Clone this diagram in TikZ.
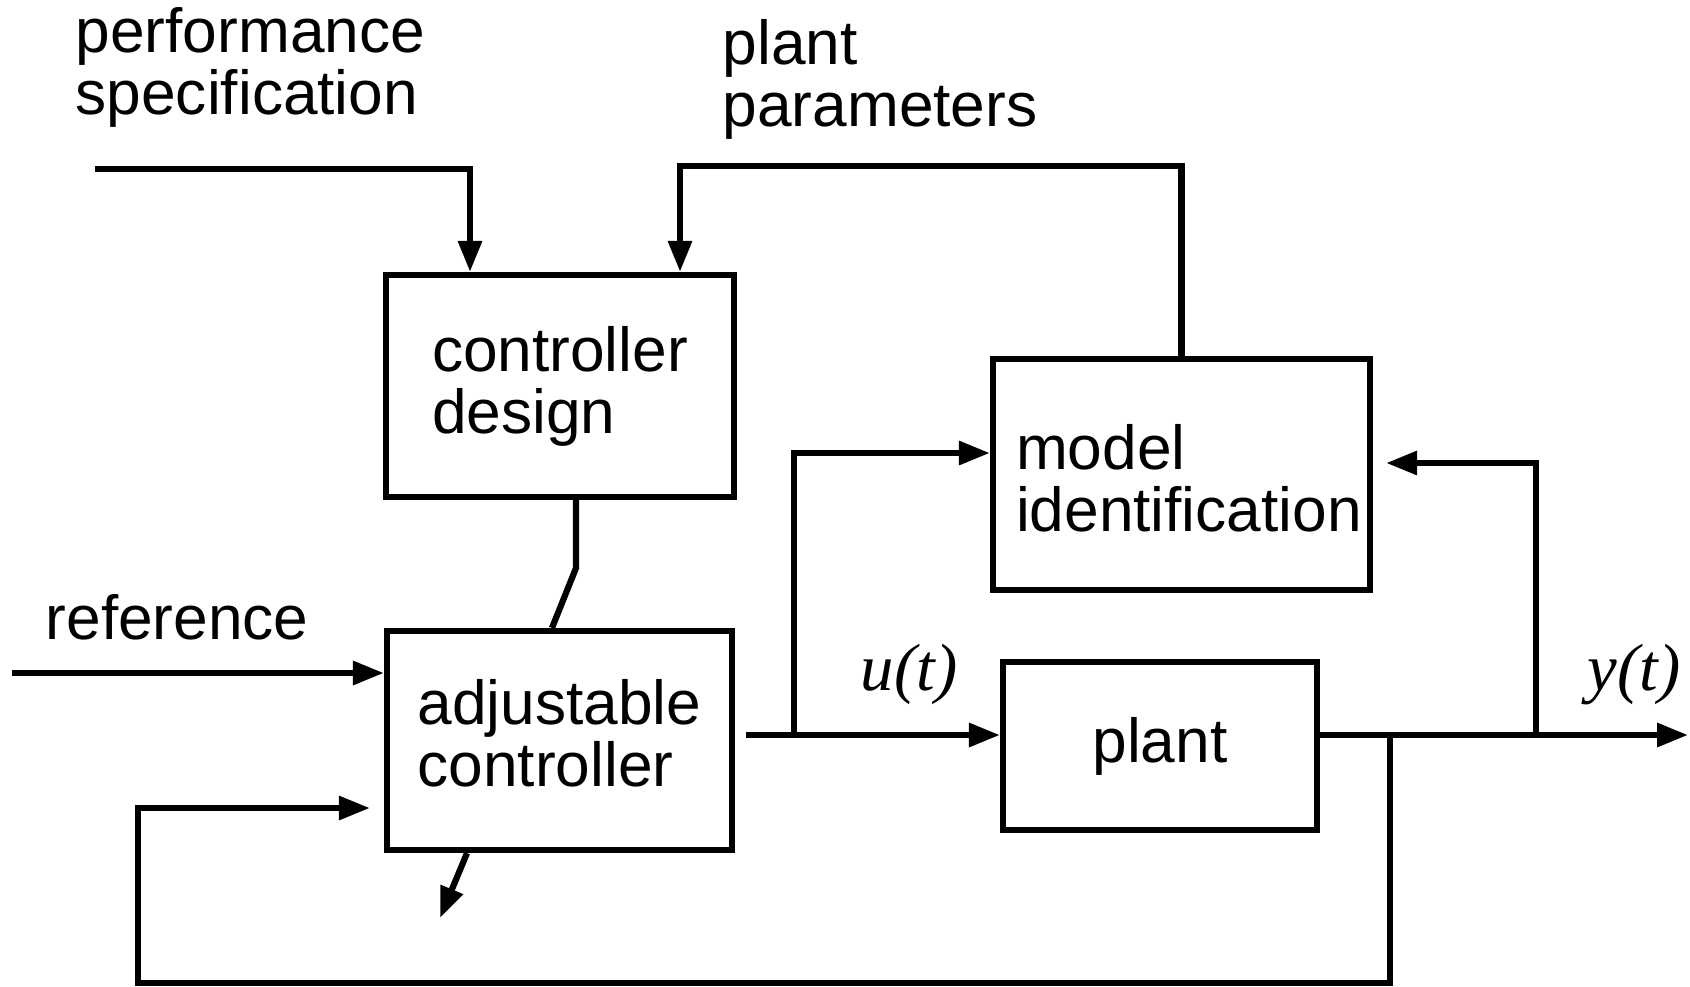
\documentclass[tikz,border=0pt]{standalone}
\usepackage{fontspec}
\setmainfont{Liberation Sans}
\newfontfamily\sigfont{Liberation Serif}
\usetikzlibrary{arrows.meta, positioning, calc}
\tikzset{
  block/.style={rectangle, draw=black, line width=0.062cm, align=left,
    inner sep=0pt, font=\fontsize{17.7}{17.6}\selectfont},
  arrow/.style={-{Triangle[length=0.31cm, width=0.23cm]}, line width=0.062cm},
  line/.style={line width=0.062cm},
  sig/.style={font=\sigfont\itshape\fontsize{19}{19}\selectfont}
}

\begin{document}
\begin{tikzpicture}[lbl/.style={align=left, inner sep=0pt,
    font=\fontsize{17.7}{17.6}\selectfont}]
  \useasboundingbox (0,0) rectangle (16.9,9.86);

  % Blocks
  \node[block, minimum width=3.48cm, minimum height=2.22cm] (design) at (5.60,6.00) {controller\\design};
  \node[block, minimum width=3.45cm, minimum height=2.19cm, text depth=0.15cm] (ctrl) at (5.595,2.455) {adjustable\\controller};
  \node[block, minimum width=3.77cm, minimum height=2.31cm, text width=3.31cm, text height=0.53cm] (ident) at (11.815,5.115) {model\\identification};
  \node[block, minimum width=3.14cm, minimum height=1.68cm] (plant) at (11.60,2.40) {plant};

  % Labels (base anchor sits on the last line)
  \node[lbl, anchor=base west] (perf) at (0.75,8.72) {performance\\specification};
  \node[lbl, anchor=base west] (params) at (7.22,8.60) {plant\\parameters};
  \node[lbl, anchor=base west] (ref) at (0.45,3.47) {reference};
  \node[sig] (u) at (9.09,3.12) {u(t)};
  \node[sig] (y) at (16.34,3.11) {y(t)};

  % Free ends and branch points
  \coordinate (spec) at (0.95,8.17);
  \coordinate (ref0) at (0.12,3.13);
  \coordinate (bend) at (5.76,4.18);
  \coordinate (adj) at (4.40,0.68);
  \coordinate (usplit) at (7.94,2.51);
  \coordinate (ysplit) at (15.36,2.51);
  \coordinate (yend) at (16.88,2.51);
  \coordinate (fb) at (13.90,2.51);
  \coordinate (fbl) at (1.38,0.03);

  % Connections
  \draw[arrow] (spec) -| ([xshift=-0.9cm]design.north);
  \draw[arrow] (ident.north) -- ++(0,1.90) -| ([xshift=1.2cm]design.north);
  \draw[line] ([xshift=0.16cm]design.south) -- (bend) -- ([xshift=-0.075cm]ctrl.north);

  \draw[arrow] (ref0) -- (ref0 -| ctrl.west);
  \draw[arrow] ([xshift=-0.925cm]ctrl.south) -- (adj);
  \draw[arrow, shorten <=0.11cm] (usplit -| ctrl.east) -- (usplit -| plant.west);
  \draw[arrow] (usplit) |- ([yshift=0.215cm]ident.west);

  \draw[arrow] (plant.east |- ysplit) -- (yend);
  \draw[arrow, shorten >=0.13cm] (ysplit) |- ([yshift=0.115cm]ident.east);
  \draw[arrow, shorten >=0.14cm] (fb) |- (fbl) |- ([yshift=-0.675cm]ctrl.west);
\end{tikzpicture}
\end{document}
